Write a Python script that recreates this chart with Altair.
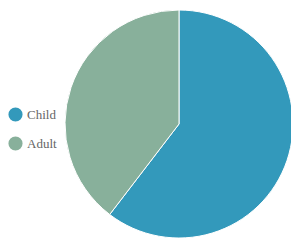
import altair as alt
import pandas as pd

categories = ["Child", "Adult"]
values = [60.4, 39.6]
colors = ["#3399bb", "#88b09b"]

df = pd.DataFrame({"group": categories, "value": values, "order": [0, 1]})

chart = alt.Chart(df).mark_arc(stroke="white", strokeWidth=1, radius=114).encode(
    theta=alt.Theta("value:Q", stack=True),
    order=alt.Order("order:Q"),
    x=alt.value(171),
    y=alt.value(116),
    color=alt.Color(
        "group:N",
        scale=alt.Scale(domain=categories, range=colors),
        sort=categories,
        legend=alt.Legend(
            title=None,
            orient="none",
            legendX=0,
            legendY=99,
            padding=0,
            symbolType="circle",
            symbolSize=200,
            symbolStrokeWidth=0,
            labelFont="Liberation Serif",
            labelFontSize=13,
            labelColor="#666666",
            rowPadding=14,
            labelOffset=4,
        ),
    ),
).properties(
    width=283, height=233, autosize=alt.AutoSizeParams(type="none"), padding=0
).configure_view(stroke=None)

chart.save("out.html", embed_options={"renderer": "svg", "actions": False})
